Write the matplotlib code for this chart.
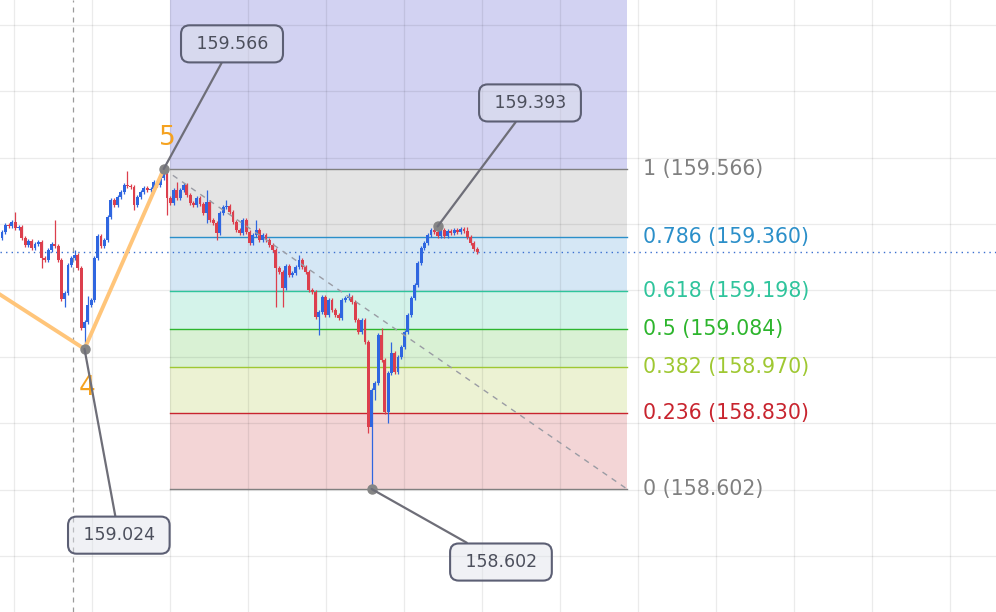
import numpy as np
import matplotlib.pyplot as plt

# --- candle data (price), one candle per bar ---
first_open = 159.358
closes = [159.376, 159.397, 159.394, 159.406, 159.388, 159.391, 159.358, 159.337, 159.349, 159.328,
          159.340, 159.346, 159.298, 159.292, 159.322, 159.340, 159.334, 159.292, 159.174, 159.193,
          159.277, 159.298, 159.307, 159.268, 159.087, 159.105, 159.156, 159.171, 159.298, 159.364,
          159.334, 159.352, 159.421, 159.473, 159.458, 159.482, 159.497, 159.518, 159.515, 159.512,
          159.458, 159.482, 159.497, 159.509, 159.503, 159.506, 159.527, 159.518, 159.539, 159.557,
          159.479, 159.464, 159.503, 159.479, 159.503, 159.518, 159.488, 159.464, 159.458, 159.479,
          159.461, 159.434, 159.467, 159.412, 159.403, 159.373, 159.434, 159.452, 159.455, 159.437,
          159.406, 159.382, 159.373, 159.412, 159.376, 159.343, 159.367, 159.382, 159.352, 159.367,
          159.352, 159.337, 159.322, 159.268, 159.256, 159.208, 159.274, 159.247, 159.253, 159.271,
          159.292, 159.271, 159.256, 159.202, 159.196, 159.120, 159.135, 159.180, 159.126, 159.171,
          159.141, 159.126, 159.117, 159.171, 159.177, 159.180, 159.165, 159.111, 159.075, 159.111,
          159.045, 158.789, 158.900, 158.921, 159.066, 158.991, 158.834, 158.952, 159.012, 158.955,
          158.999, 159.030, 159.075, 159.126, 159.177, 159.217, 159.283, 159.328, 159.343, 159.367,
          159.382, 159.376, 159.364, 159.382, 159.364, 159.379, 159.373, 159.382, 159.376, 159.385,
          159.379, 159.361, 159.343, 159.325, 159.317]
highs = [159.382, 159.403, 159.403, 159.412, 159.437, 159.397, 159.397, 159.364, 159.355, 159.355,
         159.346, 159.352, 159.352, 159.304, 159.328, 159.346, 159.412, 159.340, 159.298, 159.199,
         159.283, 159.304, 159.322, 159.313, 159.274, 159.111, 159.183, 159.177, 159.304, 159.370,
         159.370, 159.358, 159.427, 159.479, 159.479, 159.488, 159.503, 159.524, 159.560, 159.521,
         159.518, 159.488, 159.503, 159.515, 159.515, 159.512, 159.533, 159.533, 159.545, 159.566,
         159.560, 159.485, 159.509, 159.527, 159.509, 159.524, 159.524, 159.494, 159.470, 159.485,
         159.485, 159.467, 159.503, 159.473, 159.418, 159.409, 159.440, 159.458, 159.473, 159.461,
         159.443, 159.412, 159.388, 159.418, 159.418, 159.382, 159.373, 159.412, 159.388, 159.373,
         159.373, 159.358, 159.343, 159.328, 159.274, 159.262, 159.280, 159.280, 159.259, 159.277,
         159.307, 159.298, 159.277, 159.262, 159.208, 159.202, 159.141, 159.186, 159.186, 159.177,
         159.177, 159.147, 159.132, 159.177, 159.183, 159.192, 159.186, 159.171, 159.117, 159.117,
         159.117, 159.051, 158.906, 158.927, 159.072, 159.087, 158.997, 158.958, 159.045, 159.018,
         159.005, 159.036, 159.081, 159.132, 159.183, 159.223, 159.289, 159.334, 159.349, 159.373,
         159.388, 159.388, 159.393, 159.388, 159.388, 159.385, 159.385, 159.388, 159.388, 159.391,
         159.391, 159.390, 159.367, 159.349, 159.331]
lows = [159.352, 159.370, 159.388, 159.388, 159.382, 159.382, 159.352, 159.331, 159.331, 159.322,
        159.322, 159.334, 159.268, 159.286, 159.286, 159.316, 159.328, 159.286, 159.168, 159.150,
        159.187, 159.271, 159.292, 159.262, 159.081, 159.024, 159.099, 159.150, 159.165, 159.292,
        159.328, 159.328, 159.346, 159.415, 159.452, 159.452, 159.476, 159.491, 159.509, 159.506,
        159.443, 159.452, 159.476, 159.491, 159.497, 159.497, 159.500, 159.512, 159.512, 159.533,
        159.427, 159.458, 159.458, 159.473, 159.473, 159.497, 159.482, 159.458, 159.452, 159.452,
        159.455, 159.428, 159.403, 159.406, 159.397, 159.352, 159.367, 159.428, 159.446, 159.431,
        159.400, 159.376, 159.367, 159.367, 159.370, 159.337, 159.337, 159.361, 159.346, 159.346,
        159.346, 159.331, 159.316, 159.150, 159.250, 159.150, 159.202, 159.241, 159.241, 159.247,
        159.265, 159.265, 159.250, 159.196, 159.190, 159.114, 159.066, 159.129, 159.120, 159.120,
        159.135, 159.120, 159.111, 159.111, 159.165, 159.171, 159.159, 159.105, 159.069, 159.069,
        159.039, 158.771, 158.602, 158.870, 158.915, 158.985, 158.828, 158.801, 158.946, 158.949,
        158.949, 158.993, 159.024, 159.069, 159.120, 159.171, 159.211, 159.277, 159.322, 159.337,
        159.361, 159.370, 159.358, 159.358, 159.358, 159.358, 159.367, 159.367, 159.370, 159.370,
        159.373, 159.355, 159.337, 159.319, 159.311]
opens = [first_open] + closes[:-1]

# --- fibonacci retracement ---
fib_ratios = ['1', '0.786', '0.618', '0.5', '0.382', '0.236', '0']
fib_prices = [159.566, 159.360, 159.198, 159.084, 158.970, 158.830, 158.602]
fib_colors = ['#808080', '#2b8fc9', '#2fc49c', '#2db52d', '#9fc832', '#c8242e', '#808080']
band_colors = ['#e4e4e4', '#d5e7f5', '#d4f3ea', '#d9f1d4', '#ecf2d3', '#f3d5d6']

# --- elliott wave points & price callouts ---
wave_x = [-10, 25, 49]
wave_p = [159.248, 159.024, 159.566]
callout_x = [49, 132, 25, 112]
callout_p = [159.566, 159.393, 159.024, 158.602]
callout_tx = [69.7, 160.0, 35.4, 151.2]
callout_ty = [159.943, 159.765, 158.463, 158.382]
last_price = 159.317

# layout helpers (pixels per bar)
PX = 3.3
fib_x0, fib_x1 = 50.9, 189.4

fig = plt.figure(figsize=(9.96, 6.12), dpi=100)
ax = fig.add_axes([0, 0, 1, 1])
ax.set_xlim(-2 / PX, 994 / PX)
ax.set_ylim(158.2315, 160.0751)
ax.axis('off')

# grid
for gy in np.arange(158.2, 160.2, 0.2):
    ax.axhline(gy, color='black', alpha=0.08, lw=0.9, zorder=2)
for gx in np.arange(12 / PX, 1000 / PX, 78 / PX):
    ax.axvline(gx, color='black', alpha=0.08, lw=0.9, zorder=2)

# fib zones
ax.fill_between([fib_x0, fib_x1], fib_prices[0], 160.2, color='#d2d2f2', lw=0, zorder=1)
for i in range(len(band_colors)):
    ax.fill_between([fib_x0, fib_x1], fib_prices[i + 1], fib_prices[i],
                    color=band_colors[i], lw=0, zorder=1)
for r, p, c in zip(fib_ratios, fib_prices, fib_colors):
    ax.plot([fib_x0, fib_x1], [p, p], color=c, lw=1, zorder=3)
    ax.text(641 / PX, p, f'{r} ({p:.3f})', color=c, fontsize=14.8,
            ha='left', va='center', zorder=6)

# time marker & current price
ax.axvline(71 / PX, color='#9a9a9a', lw=0.9, ls=(0, (4, 4)), zorder=3)
ax.axhline(last_price, color='#3a6fd0', lw=1, ls=(0, (1, 3)), zorder=3)

# candles
x = np.arange(len(closes))
o = np.array(opens)
c = np.array(closes)
up = c >= o
col = np.where(up, '#2f66e0', '#dc3f4d')
ax.vlines(x, lows, highs, colors=col, lw=0.9, zorder=4)
ax.bar(x, np.maximum(np.abs(c - o), 0.002), bottom=np.minimum(o, c),
       width=0.85, color=col, lw=0, zorder=4)

# diagonal trend line of the fib
ax.plot([49, fib_x1], [fib_prices[0], fib_prices[-1]], color='#9a9ca4',
        lw=1, ls=(0, (4, 4)), zorder=5)

# elliott wave
ax.plot(wave_x, wave_p, color='#ffc57a', lw=2.8, solid_joinstyle='round', zorder=5)
ax.text(25.8, 158.905, '4', color='#f5a21f', fontsize=19, ha='center', va='center', zorder=6)
ax.text(50.0, 159.659, '5', color='#f5a21f', fontsize=19, ha='center', va='center', zorder=6)

# callouts
for px_, pp, tx, ty in zip(callout_x, callout_p, callout_tx, callout_ty):
    ax.plot(px_, pp, 'o', ms=6.5, color='#858585', zorder=7)
    ax.annotate(f' {pp:.3f} ', xy=(px_, pp), xytext=(tx, ty), fontsize=12.5,
                color='#4c4f5c', ha='center', va='center', zorder=8,
                bbox=dict(boxstyle='round,pad=0.55,rounding_size=0.5',
                          facecolor=(0.875, 0.886, 0.918, 0.45),
                          edgecolor='#5c5f74', lw=1.5),
                arrowprops=dict(arrowstyle='-', color='#6e6e78', lw=1.6,
                                shrinkA=0, shrinkB=0))

plt.savefig('out.png', dpi=100)
